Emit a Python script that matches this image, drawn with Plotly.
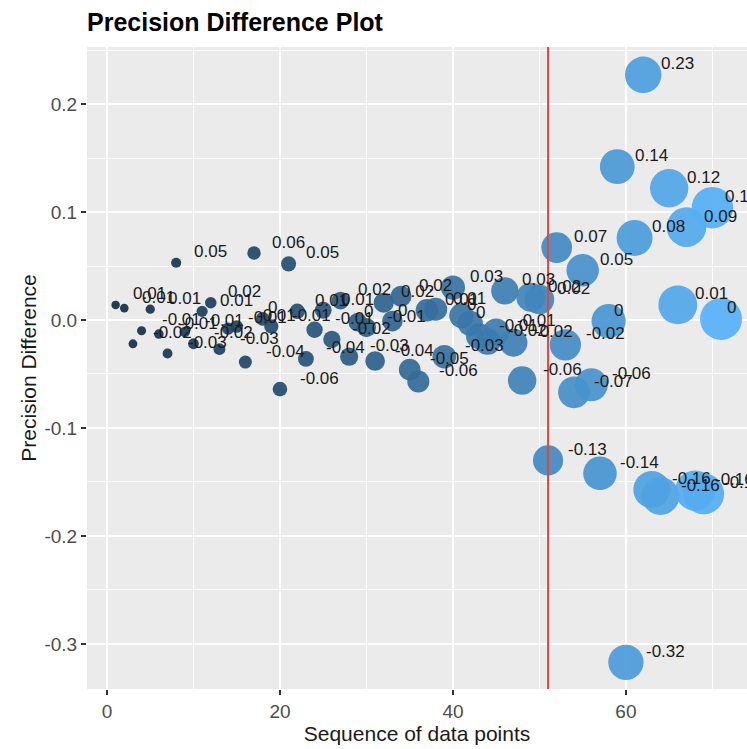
import plotly.graph_objects as go

# ---- data ----
sequence = list(range(1, 72))
precision_diff = [
    0.014, 0.011, -0.022, -0.010, 0.010, -0.013, -0.031, 0.053, -0.011, -0.022,
    0.008, 0.016, -0.027, -0.008, -0.006, -0.039, 0.062, 0.001, -0.006, -0.064,
    0.052, 0.008, -0.036, -0.009, 0.009, -0.018, 0.018, -0.034, -0.002, -0.007,
    -0.038, 0.016, -0.001, 0.022, -0.046, -0.057, 0.009, 0.010, -0.034, 0.030,
    0.004, -0.003, -0.015, -0.020, -0.011, 0.027, -0.021, -0.056, 0.021, 0.019,
    -0.130, 0.067, -0.023, -0.067, 0.046, -0.060, -0.142, -0.001, 0.142, -0.317,
    0.076, 0.227, -0.157, -0.163, 0.122, 0.014, 0.086, -0.158, -0.161, 0.104,
    0.001,
]
cutoff = 51
x_ticks = [0, 20, 40, 60]
y_ticks = [-0.3, -0.2, -0.1, 0.0, 0.1, 0.2]
y_tick_text = ["-0.3", "-0.2", "-0.1", "0.0", "0.1", "0.2"]


def r_label(v):
    r = round(v, 2)
    if abs(r) < 1e-9:
        return "0"
    return f"{r:.2f}".rstrip("0").rstrip(".")


def text_width(s, fs):
    w = 0.0
    for ch in s:
        if ch.isdigit():
            w += 0.556
        elif ch == ".":
            w += 0.278
        elif ch == "-":
            w += 0.333
        else:
            w += 0.5
    return w * fs


# size scale (ggplot-like continuous size mapping)
smin, smax = min(sequence), max(sequence)
sizes = [8.5 + 33.5 * ((s - smin) / (smax - smin)) ** 1.3 for s in sequence]

colorscale = [
    [0.0, "#132B43"],
    [0.25, "#22496C"],
    [0.5, "#336A98"],
    [0.75, "#448DC6"],
    [1.0, "#56B1F7"],
]

fig = go.Figure()
fig.add_trace(
    go.Scatter(
        x=sequence,
        y=precision_diff,
        mode="markers",
        marker=dict(
            size=sizes,
            sizemode="diameter",
            color=sequence,
            colorscale=colorscale,
            cmin=smin,
            cmax=smax,
            opacity=0.92,
            line=dict(width=0),
            showscale=False,
        ),
        showlegend=False,
        hoverinfo="x+y",
    )
)

label_fs = 17
annotations = []
for xv, yv in zip(sequence, precision_diff):
    lab = r_label(yv)
    w = text_width(lab, label_fs)
    annotations.append(
        dict(
            x=xv, y=yv, xref="x", yref="y", text=lab, showarrow=False,
            xanchor="left", yanchor="middle", xshift=0.5 * w - 1, yshift=11,
            font=dict(family="Liberation Sans, Arial, sans-serif", size=label_fs, color="#1A1A1A"),
        )
    )

fig.add_shape(
    type="line", xref="x", yref="paper", x0=cutoff, x1=cutoff, y0=0, y1=1,
    line=dict(color="#E5433D", width=2), layer="above",
)

fig.update_layout(
    width=747,
    height=749,
    margin=dict(l=87, r=0, t=47, b=60, autoexpand=False),
    paper_bgcolor="white",
    plot_bgcolor="#EBEBEB",
    font=dict(family="Liberation Sans, Arial, sans-serif", color="#4D4D4D"),
    title=dict(
        text="Precision Difference Plot",
        x=87 / 747, xanchor="left", xref="container",
        y=1 - 22 / 749, yanchor="middle", yref="container",
        font=dict(size=25, color="#000000", weight="bold"),
    ),
    annotations=annotations,
    showlegend=False,
)

fig.update_xaxes(
    range=[-2.31, 74.0],
    tickvals=x_ticks,
    ticktext=[str(t) for t in x_ticks],
    showgrid=True, gridcolor="white", gridwidth=1.8,
    minor=dict(dtick=10, tick0=0, showgrid=True, gridcolor="white", gridwidth=0.8),
    zeroline=False, showline=False, automargin=False,
    ticks="outside", ticklen=5, tickwidth=1.6, tickcolor="#333333",
    tickfont=dict(size=19, color="#4D4D4D"),
    title=dict(text="Sequence of data points", font=dict(size=21, color="#1A1A1A"), standoff=4),
)
fig.update_yaxes(
    range=[-0.3417, 0.2528],
    tickvals=y_ticks,
    ticktext=y_tick_text,
    showgrid=True, gridcolor="white", gridwidth=1.8,
    minor=dict(dtick=0.05, tick0=0, showgrid=True, gridcolor="white", gridwidth=0.8),
    zeroline=False, showline=False, automargin=False,
    ticks="outside", ticklen=5, tickwidth=1.6, tickcolor="#333333",
    tickfont=dict(size=19, color="#4D4D4D"),
    title=dict(text="Precision Difference", font=dict(size=21, color="#1A1A1A"), standoff=2),
)

fig.write_html(
    "out.html",
    config={"displayModeBar": False},
    post_script="document.body.style.margin='0px';document.body.style.overflow='hidden';",
)
